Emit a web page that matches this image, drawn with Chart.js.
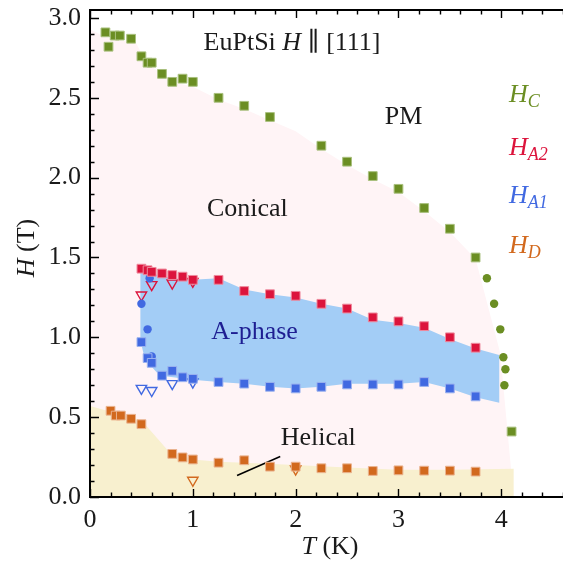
<!DOCTYPE html>
<html>
<head>
<meta charset="utf-8">
<script src="https://cdn.jsdelivr.net/npm/chart.js@4.4.1/dist/chart.umd.min.js"></script>
<style>
  html, body { margin: 0; padding: 0; background: #fff; overflow: hidden; }
  canvas { display: block; }
</style>
</head>
<body>
<canvas id="phaseChart" width="563" height="568"></canvas>
<script>
// H_C (squares and circles)
const hcT = [0.15, 0.18, 0.24, 0.29, 0.40, 0.50, 0.56, 0.60, 0.70, 0.80, 0.90, 1.00, 1.25, 1.50, 1.75, 2.25, 2.50, 2.75, 3.00, 3.25, 3.50, 3.75, 4.10];
const hcH = [2.91, 2.82, 2.89, 2.89, 2.87, 2.76, 2.72, 2.72, 2.65, 2.60, 2.62, 2.60, 2.50, 2.45, 2.38, 2.20, 2.10, 2.01, 1.93, 1.81, 1.68, 1.50, 0.41];
const hcCircT = [3.86, 3.93, 3.99, 4.02, 4.04, 4.03];
const hcCircH = [1.37, 1.21, 1.05, 0.875, 0.80, 0.70];

// H_A2 / H_A1
const aT = [0.50, 0.56, 0.60, 0.70, 0.80, 0.90, 1.00, 1.25, 1.50, 1.75, 2.00, 2.25, 2.50, 2.75, 3.00, 3.25, 3.50, 3.75];
const ha2H = [1.43, 1.42, 1.41, 1.40, 1.39, 1.38, 1.36, 1.36, 1.29, 1.27, 1.26, 1.21, 1.18, 1.125, 1.10, 1.07, 1.00, 0.935];
const ha1H = [0.97, 0.87, 0.84, 0.76, 0.79, 0.75, 0.74, 0.72, 0.71, 0.69, 0.68, 0.69, 0.705, 0.705, 0.705, 0.72, 0.68, 0.63];
const ha1CircT = [0.58, 0.50, 0.56, 0.60];
const ha1CircH = [1.37, 1.21, 1.05, 0.88];

// open triangles
const triT = [0.50, 0.60, 0.80, 1.00];
const triA2H = [1.265, 1.33, 1.34, 1.35];
const triA1H = [0.68, 0.667, 0.71, 0.72];
const triDT = [1.00, 2.00];
const triDH = [0.105, 0.175];

// H_D
const hdT = [0.20, 0.25, 0.30, 0.40, 0.50, 0.80, 0.90, 1.00, 1.25, 1.50, 1.75, 2.00, 2.25, 2.50, 2.75, 3.00, 3.25, 3.50, 3.75];
const hdH = [0.54, 0.51, 0.51, 0.49, 0.456, 0.27, 0.248, 0.235, 0.215, 0.23, 0.19, 0.19, 0.18, 0.18, 0.163, 0.167, 0.165, 0.165, 0.159];

// phase regions (boundaries)
const conicalT = [0, 0, 0.15, 0.45, 0.55, 0.80, 1.00, 1.25, 1.50, 1.75, 2.00, 2.25, 2.50, 2.75, 3.00, 3.25, 3.50, 3.75, 3.99, 4.12];
const conicalH = [0, 2.93, 2.88, 2.84, 2.72, 2.60, 2.57, 2.49, 2.43, 2.36, 2.29, 2.18, 2.08, 1.99, 1.91, 1.79, 1.66, 1.49, 0.90, 0];
const aPhaseT = [0.49, 0.60, 0.80, 1.00, 1.25, 1.50, 1.75, 2.00, 2.25, 2.50, 2.75, 3.00, 3.25, 3.50, 3.75, 3.98,
                 3.98, 3.75, 3.50, 3.25, 3.00, 2.75, 2.50, 2.25, 2.00, 1.75, 1.50, 1.25, 1.00, 0.75, 0.65, 0.58, 0.52, 0.49];
const aPhaseH = [1.43, 1.40, 1.37, 1.36, 1.37, 1.30, 1.27, 1.25, 1.21, 1.18, 1.11, 1.09, 1.06, 0.99, 0.93, 0.89,
                 0.59, 0.625, 0.68, 0.72, 0.71, 0.71, 0.71, 0.69, 0.68, 0.69, 0.71, 0.72, 0.735, 0.755, 0.78, 0.83, 0.90, 0.98];
const helicalT = [0, 0, 0.50, 0.76, 1.00, 1.25, 1.50, 2.00, 2.50, 3.00, 3.50, 4.12, 4.12];
const helicalH = [0, 0.57, 0.48, 0.29, 0.235, 0.22, 0.215, 0.20, 0.185, 0.17, 0.17, 0.177, 0];

// pointer line for the "Helical" label
const pointerT = [1.43, 1.85];
const pointerH = [0.135, 0.254];

const xTicks = [0, 1, 2, 3, 4];
const yTicks = [0, 0.5, 1.0, 1.5, 2.0, 2.5, 3.0];

const green = '#6b8e23', red = '#dc143c', blue = '#4169e1', orange = '#d2691e';
const serif = '"Liberation Serif", "DejaVu Serif", serif';

function pts(xs, ys) {
    return xs.map((x, i) => ({ x: x, y: ys[i] }));
}

function squares(xs, ys, color, edge) {
    return { data: pts(xs, ys), pointStyle: 'rect', pointRadius: 6.2, backgroundColor: color,
             borderColor: edge, borderWidth: 1, showLine: false };
}
function circles(xs, ys, color) {
    return { data: pts(xs, ys), pointStyle: 'circle', pointRadius: 4.2, backgroundColor: color,
             borderColor: color, borderWidth: 0, showLine: false };
}
function triangles(xs, ys, color) {
    return { data: pts(xs, ys), pointStyle: 'triangle', pointRotation: 180, pointRadius: 6,
             backgroundColor: 'rgba(0,0,0,0)', borderColor: color, borderWidth: 1.4, showLine: false };
}
function region(xs, ys, color) {
    return { data: pts(xs, ys), showLine: true, fill: 'shape', backgroundColor: color,
             borderWidth: 0, borderColor: 'rgba(0,0,0,0)', pointRadius: 0, tension: 0 };
}
function noPad(s) {
    s.paddingTop = 0; s.paddingBottom = 0; s.paddingLeft = 0; s.paddingRight = 0;
}

// text, spines and inward ticks
const decorations = {
    id: 'decorations',
    afterDraw(chart) {
        const ctx = chart.ctx;
        const x = chart.scales.x, y = chart.scales.y;
        const a = chart.chartArea;
        ctx.save();
        ctx.strokeStyle = '#000';
        ctx.lineWidth = 2;
        ctx.beginPath();
        ctx.moveTo(a.left, a.top); ctx.lineTo(a.left, a.bottom);
        ctx.moveTo(a.left - 1, a.bottom); ctx.lineTo(a.right, a.bottom);
        ctx.moveTo(a.left - 1, a.top); ctx.lineTo(a.right, a.top);
        ctx.stroke();

        ctx.lineWidth = 1.4;
        ctx.beginPath();
        for (let v = 0; v <= 4.61; v += 0.2) {
            const px = Math.round(x.getPixelForValue(v)) + 0.5;
            const major = Math.abs(v - Math.round(v)) < 1e-6;
            const len = major ? 8 : 4.5;
            ctx.moveTo(px, a.bottom); ctx.lineTo(px, a.bottom - len);
            ctx.moveTo(px, a.top); ctx.lineTo(px, a.top + len);
        }
        for (let v = 0; v <= 3.051; v += 0.1) {
            const py = Math.round(y.getPixelForValue(v)) + 0.5;
            const major = Math.abs(v * 2 - Math.round(v * 2)) < 1e-6;
            const len = major ? 9 : 4.5;
            ctx.moveTo(a.left, py); ctx.lineTo(a.left + len, py);
        }
        ctx.stroke();

        ctx.fillStyle = '#1a1a1a';
        ctx.textBaseline = 'middle';
        const rich = (parts, cx, cy) => {
            let w = 0;
            parts.forEach(p => { ctx.font = p.font; w += ctx.measureText(p.t).width; });
            let px = cx - w / 2;
            parts.forEach(p => {
                ctx.font = p.font;
                ctx.fillStyle = p.color || '#1a1a1a';
                ctx.fillText(p.t, px, cy + (p.dy || 0));
                px += ctx.measureText(p.t).width;
            });
        };
        const rom = '26px ' + serif, ita = 'italic 26px ' + serif, sub = 'italic 18px ' + serif;
        const at = (t, h) => [x.getPixelForValue(t), y.getPixelForValue(h)];

        let p = at(1.965, 2.84);
        rich([{ t: 'EuPtSi ', font: rom }, { t: 'H', font: ita }, { t: ' \u2225 [111]', font: rom }], p[0], p[1]);
        p = at(3.05, 2.38);
        rich([{ t: 'PM', font: rom }], p[0], p[1]);
        p = at(1.53, 1.80);
        rich([{ t: 'Conical', font: rom }], p[0], p[1]);
        p = at(1.60, 1.03);
        rich([{ t: 'A-phase', font: rom, color: '#1e1e92' }], p[0], p[1]);
        p = at(2.22, 0.37);
        rich([{ t: 'Helical', font: rom }], p[0], p[1]);

        const leg = [['C', green, 95], ['A2', red, 148], ['A1', blue, 196], ['D', orange, 246]];
        leg.forEach(l => {
            ctx.font = ita;
            const w1 = ctx.measureText('H').width;
            ctx.font = sub;
            const w2 = ctx.measureText(l[0]).width;
            rich([{ t: 'H', font: ita, color: l[1] }, { t: l[0], font: sub, color: l[1], dy: 7 }], 509 + (w1 + w2) / 2, l[2]);
        });

        // axis titles
        rich([{ t: 'T', font: ita }, { t: ' (K)', font: rom }], 330, 547);
        ctx.translate(27, 248);
        ctx.rotate(-Math.PI / 2);
        rich([{ t: 'H', font: ita }, { t: ' (T)', font: rom }], 0, 0);
        ctx.restore();
    }
};

const ctx = document.getElementById('phaseChart').getContext('2d');
const phaseChart = new Chart(ctx, {
    type: 'scatter',
    data: {
        datasets: [
            squares(hcT, hcH, green, '#a9c07e'),
            squares(aT, ha2H, red, '#ee8a9d'),
            squares(aT, ha1H, blue, '#9bb2ef'),
            squares(hdT, hdH, orange, '#eab38f'),
            circles(hcCircT, hcCircH, green),
            circles(ha1CircT, ha1CircH, blue),
            triangles(triT, triA2H, red),
            triangles(triT, triA1H, blue),
            triangles(triDT, triDH, orange),
            { data: pts(pointerT, pointerH), showLine: true, borderColor: '#000', borderWidth: 1.5, pointRadius: 0 },
            region(helicalT, helicalH, '#f8f0cf'),
            region(aPhaseT, aPhaseH, '#a3cdf6'),
            region(conicalT, conicalH, '#fff4f6')
        ]
    },
    options: {
        responsive: false,
        animation: false,
        layout: { autoPadding: false, padding: { top: 10, right: 0, left: 0, bottom: 0 } },
        plugins: { legend: { display: false }, tooltip: { enabled: false } },
        scales: {
            x: {
                type: 'linear', min: 0, max: 4.6,
                grid: { display: false, drawTicks: false },
                border: { display: false },
                afterFit: s => { s.height = 71; noPad(s); },
                afterBuildTicks: s => { s.ticks = xTicks.map(v => ({ value: v })); },
                ticks: { padding: 8, color: '#1a1a1a', font: { family: serif, size: 26 }, maxRotation: 0,
                         callback: v => String(v) }
            },
            y: {
                type: 'linear', min: 0, max: 3.05,
                grid: { display: false, drawTicks: false },
                border: { display: false },
                afterFit: s => { s.width = 90; noPad(s); },
                afterBuildTicks: s => { s.ticks = yTicks.map(v => ({ value: v })); },
                ticks: { padding: 9, color: '#1a1a1a', font: { family: serif, size: 26 },
                         callback: v => v.toFixed(1) }
            }
        }
    },
    plugins: [decorations]
});
</script>
</body>
</html>
